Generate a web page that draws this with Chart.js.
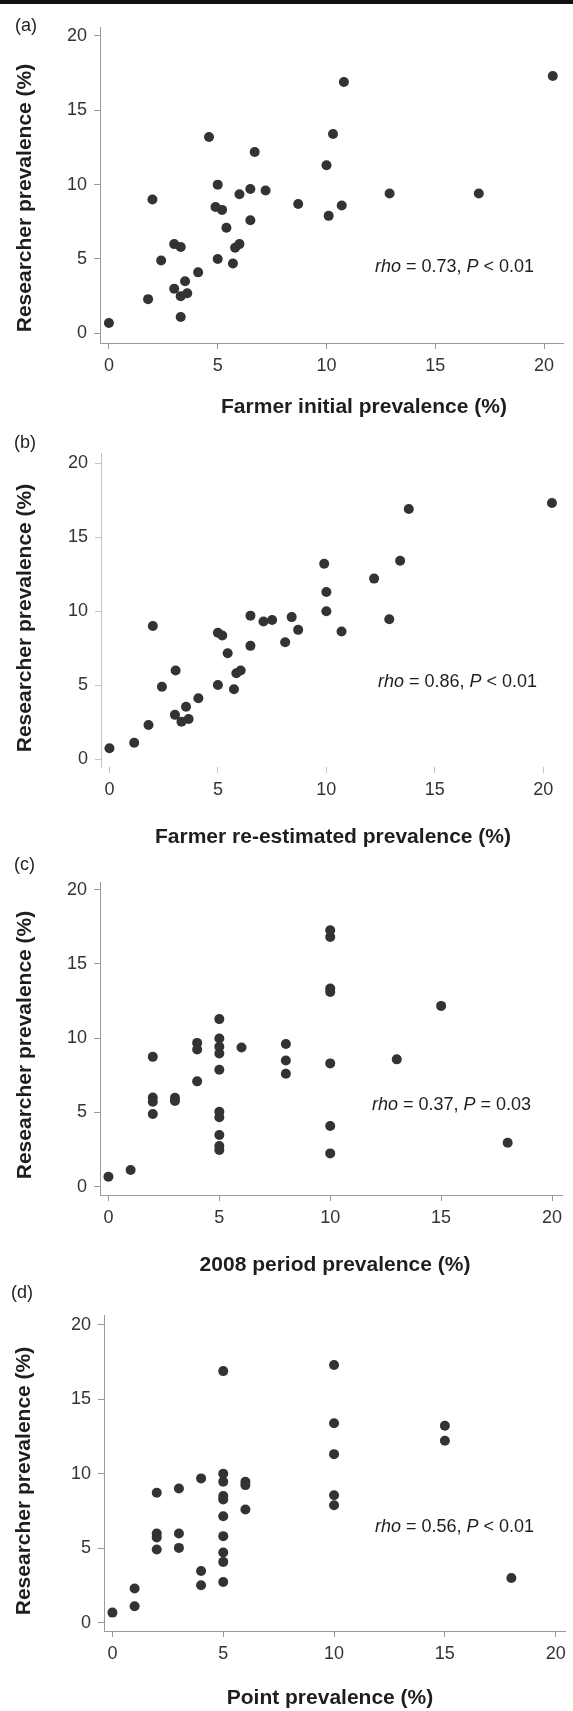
<!DOCTYPE html>
<html>
<head>
<meta charset="utf-8">
<title>Researcher vs farmer prevalence</title>
<script src="https://cdn.jsdelivr.net/npm/chart.js@4.4.1/dist/chart.umd.min.js"></script>
<style>
  html, body { margin: 0; padding: 0; background: #fff; }
  #page { position: relative; width: 573px; height: 1711px; overflow: hidden; }
  #rule { position: absolute; left: 0; top: 0; width: 573px; height: 4px; background: #111; }
  canvas { position: absolute; left: 0; }
</style>
</head>
<body>
<div id="page">
  <div id="rule"></div>
  <canvas id="chartA" width="573" height="424" style="top:6px"></canvas>
  <canvas id="chartB" width="573" height="435" style="top:420px"></canvas>
  <canvas id="chartC" width="573" height="440" style="top:845px"></canvas>
  <canvas id="chartD" width="573" height="436" style="top:1275px"></canvas>
</div>
<script>
// ========================================
// DATA
// ========================================

const xTicks = [0, 5, 10, 15, 20];
const yTicks = [0, 5, 10, 15, 20];
const yTitle = 'Researcher prevalence (%)';

// (a) farmer initial estimate vs researcher
const initialX = [20.4, 10.8, 4.6, 10.3, 6.7, 10.0, 5.0, 12.9, 17.0, 2.0, 6.5, 7.2, 6.0, 8.7, 10.7, 4.9, 5.2, 10.1,
                  6.5, 5.4, 3.0, 3.3, 6.0, 5.8, 2.4, 5.0, 5.7, 4.1, 3.5, 3.0, 3.3, 3.6, 1.8, 3.3, 0.0];
const initialY = [17.3, 16.9, 13.2, 13.4, 12.2, 11.3, 10.0, 9.4, 9.4, 9.0, 9.7, 9.6, 9.35, 8.7, 8.6, 8.5, 8.3, 7.9,
                  7.6, 7.1, 6.0, 5.8, 6.0, 5.75, 4.9, 5.0, 4.7, 4.1, 3.5, 3.0, 2.5, 2.7, 2.3, 1.1, 0.7];

// (b) farmer re-estimated vs researcher
const reestX = [20.4, 13.8, 9.9, 13.4, 12.2, 10.0, 10.0, 12.9, 6.5, 7.1, 7.5, 8.4, 2.0, 5.0, 5.2, 8.7, 10.7, 8.1,
                6.5, 5.45, 3.05, 5.85, 6.05, 2.42, 5.0, 5.74, 4.1, 3.53, 3.02, 3.32, 3.65, 1.8, 1.14, 0.0];
const reestY = [17.3, 16.9, 13.2, 13.4, 12.2, 11.3, 10.0, 9.45, 9.7, 9.3, 9.4, 9.6, 9.0, 8.55, 8.36, 8.74, 8.63, 7.9,
                7.66, 7.16, 6.0, 5.81, 6.0, 4.9, 5.02, 4.73, 4.12, 3.55, 3.0, 2.54, 2.72, 2.32, 1.12, 0.74];

// (c) 2008 period prevalence vs researcher
const periodX = [10, 10, 10, 10, 15, 5, 5, 4, 8, 5, 6, 4, 5, 2, 13, 8, 10, 5,
                 8, 4, 2, 3, 3, 2, 5, 2, 5, 10, 5, 18, 5, 5, 10, 1, 0];
const periodY = [17.26, 16.81, 13.34, 13.11, 12.17, 11.28, 9.98, 9.68, 9.6, 9.42, 9.37, 9.24, 8.97, 8.74, 8.57, 8.5, 8.3, 7.87,
                 7.6, 7.09, 6.0, 5.98, 5.77, 5.72, 5.04, 4.89, 4.67, 4.08, 3.48, 2.96, 2.74, 2.47, 2.24, 1.12, 0.67];

// (d) point prevalence vs researcher
const pointX = [5, 10, 10, 15, 15, 10, 5, 5, 4, 6, 6, 3, 2, 10, 10, 5, 5, 6,
                5, 2, 2, 3, 5, 2, 3, 5, 5, 4, 18, 4, 5, 1, 1, 0];
const pointY = [16.9, 17.31, 13.39, 13.23, 12.22, 11.32, 10.0, 9.46, 9.69, 9.46, 9.24, 9.01, 8.72, 8.56, 7.89, 8.5, 8.27, 7.6,
                7.15, 5.99, 5.72, 5.99, 5.81, 4.91, 5.02, 4.71, 4.08, 3.47, 3.0, 2.51, 2.73, 2.29, 1.1, 0.67];

// ========================================
// LAYOUT (absolute page pixels)
// ========================================

const FONT = '"Liberation Sans", Arial, Helvetica, sans-serif';

const panels = [
    { id: 'chartA', top: 6, letter: '(a)', letterX: 15, letterY: 26,
      axisTop: 27, axisBottom: 343, axisLeft: 100, axisRight: 563,
      xMin: -0.41, xMax: 20.87, yMin: -0.65, yMax: 20.6, axisColor: '#999', xBorder: true,
      xTitle: 'Farmer initial prevalence (%)', xTitleX: 364, xTitleY: 407,
      yTitleX: 25, yTitleY: 198,
      note: [['rho', true], [' = 0.73, ', false], ['P', true], [' < 0.01', false]], noteX: 375, noteY: 267,
      xs: initialX, ys: initialY },
    { id: 'chartB', top: 420, letter: '(b)', letterX: 14, letterY: 443,
      axisTop: 453, axisBottom: 767, axisLeft: 101, axisRight: 563,
      xMin: -0.39, xMax: 20.91, yMin: -0.52, yMax: 20.68, axisColor: '#c4c4c4', xBorder: false,
      xTitle: 'Farmer re-estimated prevalence (%)', xTitleX: 333, xTitleY: 837,
      yTitleX: 25, yTitleY: 618,
      note: [['rho', true], [' = 0.86, ', false], ['P', true], [' < 0.01', false]], noteX: 378, noteY: 682,
      xs: reestX, ys: reestY },
    { id: 'chartC', top: 845, letter: '(c)', letterX: 14, letterY: 865,
      axisTop: 882, axisBottom: 1195, axisLeft: 100, axisRight: 562,
      xMin: -0.38, xMax: 20.45, yMin: -0.56, yMax: 20.51, axisColor: '#999', xBorder: true,
      xTitle: '2008 period prevalence (%)', xTitleX: 335, xTitleY: 1265,
      yTitleX: 25, yTitleY: 1045,
      note: [['rho', true], [' = 0.37, ', false], ['P', true], [' = 0.03', false]], noteX: 372, noteY: 1105,
      xs: periodX, ys: periodY },
    { id: 'chartD', top: 1275, letter: '(d)', letterX: 11, letterY: 1293,
      axisTop: 1315, axisBottom: 1631, axisLeft: 104, axisRight: 565,
      xMin: -0.38, xMax: 20.42, yMin: -0.565, yMax: 20.67, axisColor: '#999', xBorder: true,
      xTitle: 'Point prevalence (%)', xTitleX: 330, xTitleY: 1698,
      yTitleX: 24, yTitleY: 1481,
      note: [['rho', true], [' = 0.56, ', false], ['P', true], [' < 0.01', false]], noteX: 375, noteY: 1527,
      xs: pointX, ys: pointY }
];

// ========================================
// TEXT PLUGIN (panel letter, titles, stats note)
// ========================================

const panelText = {
    id: 'panelText',
    afterDraw(chart, args, o) {
        const { ctx } = chart;
        ctx.save();
        ctx.fillStyle = '#1e1e1e';
        ctx.textBaseline = 'middle';

        ctx.font = `18px ${FONT}`;
        ctx.textAlign = 'left';
        ctx.fillText(o.letter, o.letterX, o.letterY);

        // note with italic runs
        let x = o.noteX;
        o.note.forEach(([txt, italic]) => {
            ctx.font = `${italic ? 'italic ' : ''}18px ${FONT}`;
            ctx.fillText(txt, x, o.noteY);
            x += ctx.measureText(txt).width;
        });

        ctx.font = `bold 21px ${FONT}`;
        ctx.textAlign = 'center';
        ctx.fillText(o.xTitle, o.xTitleX, o.xTitleY);

        ctx.translate(o.yTitleX, o.yTitleY);
        ctx.rotate(-Math.PI / 2);
        ctx.fillText(yTitle, 0, 0);
        ctx.restore();
    }
};

// ========================================
// CHARTS
// ========================================

const makePanel = (p) => {
    const canvas = document.getElementById(p.id);
    const h = canvas.height;
    const rel = (v) => v - p.top;
    const tickFont = { family: FONT, size: 18 };

    new Chart(canvas, {
        type: 'scatter',
        data: {
            datasets: [{
                data: p.xs.map((x, i) => ({ x, y: p.ys[i] })),
                backgroundColor: '#333',
                borderWidth: 0,
                pointRadius: 5,
                pointHoverRadius: 5
            }]
        },
        options: {
            responsive: false,
            animation: false,
            events: [],
            layout: {
                autoPadding: false,
                padding: { top: rel(p.axisTop), right: 573 - p.axisRight, bottom: 0, left: 0 }
            },
            plugins: {
                legend: { display: false },
                tooltip: { enabled: false },
                panelText: {
                    letter: p.letter, letterX: p.letterX, letterY: rel(p.letterY),
                    xTitle: p.xTitle, xTitleX: p.xTitleX, xTitleY: rel(p.xTitleY),
                    yTitleX: p.yTitleX, yTitleY: rel(p.yTitleY),
                    note: p.note, noteX: p.noteX, noteY: rel(p.noteY)
                }
            },
            scales: {
                x: {
                    type: 'linear',
                    min: p.xMin,
                    max: p.xMax,
                    afterFit: (s) => { s.height = h - rel(p.axisBottom); },
                    afterBuildTicks: (s) => { s.ticks = xTicks.map(v => ({ value: v })); },
                    grid: { drawOnChartArea: false, drawTicks: true, tickLength: 6, color: p.axisColor },
                    border: { display: p.xBorder, color: p.axisColor, width: 1 },
                    ticks: { font: tickFont, color: '#333', padding: 6, maxRotation: 0 }
                },
                y: {
                    type: 'linear',
                    min: p.yMin,
                    max: p.yMax,
                    afterFit: (s) => { s.width = p.axisLeft; },
                    afterBuildTicks: (s) => { s.ticks = yTicks.map(v => ({ value: v })); },
                    grid: { drawOnChartArea: false, drawTicks: true, tickLength: 6, color: p.axisColor },
                    border: { display: true, color: p.axisColor, width: 1 },
                    ticks: { font: tickFont, color: '#333', padding: 7 }
                }
            }
        },
        plugins: [panelText]
    });
};

panels.forEach(makePanel);
</script>
</body>
</html>
